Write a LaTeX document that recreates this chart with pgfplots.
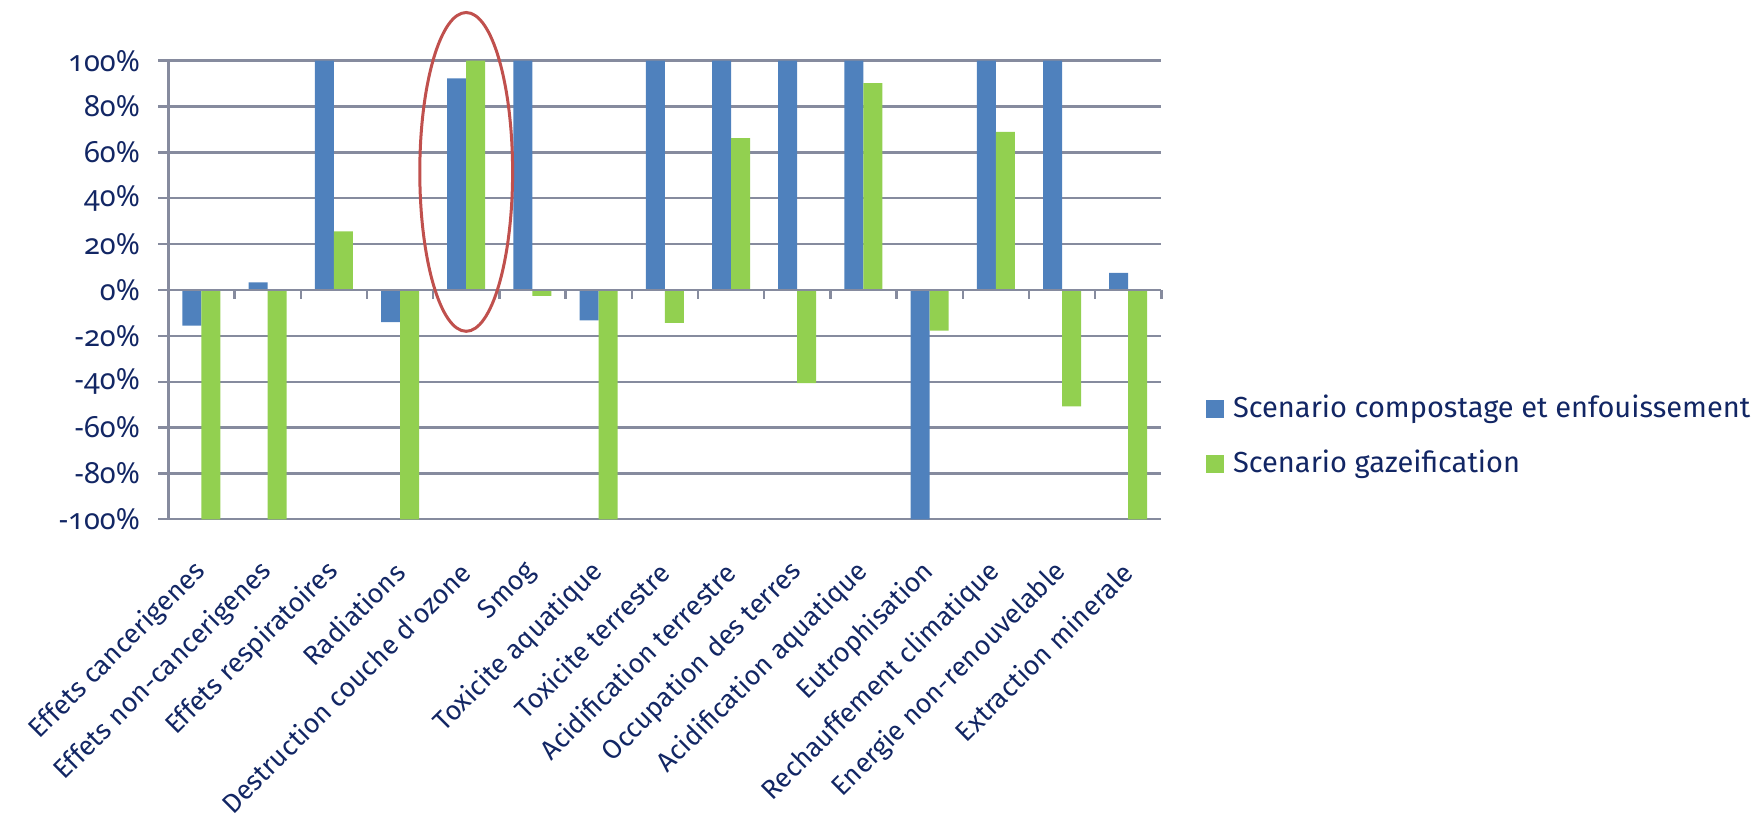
\documentclass[border=0pt]{standalone}
\usepackage{fontspec}
\setmainfont{Fira Sans}
\newfontfamily\percentfont{Noto Sans}[Numbers=OldStyle]
\usepackage{pgfplots}
\pgfplotsset{compat=1.18}
\usepackage{pgfplotstable}

\definecolor{barblue}{RGB}{79,129,189}
\definecolor{bargreen}{RGB}{146,208,80}
\definecolor{gridgray}{RGB}{134,139,158}
\definecolor{textnavy}{RGB}{18,38,100}
\definecolor{ringred}{RGB}{192,80,77}

% relative impact of each scenario per category (percent)
\pgfplotstableread{
idx compost gazeif
1   -15.5   -100
2     3.3   -100
3   100      25.6
4   -14.0   -100
5    92.3    100
6   100      -2.6
7   -13.2   -100
8   100     -14.3
9   100      66.2
10  100     -40.6
11  100      90.2
12 -100     -17.7
13  100      69.0
14  100     -50.8
15    7.5   -100
}\impacts

\begin{document}
\begin{tikzpicture}[font=\fontsize{14.5}{17}\selectfont, text=textnavy]
\useasboundingbox (0,0) rectangle (879pt,409.5pt);
\begin{axis}[
  at={(84.15pt,149.85pt)}, anchor=south west,
  scale only axis, width=496.5pt, height=229.3pt,
  xmin=0.5, xmax=15.5, ymin=-100, ymax=100,
  axis x line*=bottom, axis y line*=left,
  axis line style={draw=gridgray, line width=1.2pt},
  ybar=0pt, bar width=9.5pt,
  xtick={1,...,15},
  xticklabels={Effets cancerigenes, Effets non-cancerigenes, Effets respiratoires,
    Radiations, Destruction couche d\textquotesingle ozone, Smog, Toxicite aquatique,
    Toxicite terrestre, Acidification terrestre, Occupation des terres,
    Acidification aquatique, Eutrophisation, Rechauffement climatique,
    Energie non-renouvelable, Extraction minerale},
  xtick style={draw=none},
  xticklabel style={rotate=45, anchor=east, inner sep=0pt, font=\fontsize{13.5}{16}\selectfont},
  xticklabel shift=19pt,
  ytick={-100,-80,...,100},
  yticklabels={-100\%,-80\%,-60\%,-40\%,-20\%,0\%,20\%,40\%,60\%,80\%,100\%},
  ytick style={draw=gridgray, line width=1.2pt},
  tick align=outside, major tick length=5pt,
  yticklabel style={anchor=east, inner sep=0pt, font=\percentfont\fontsize{14.5}{17}\selectfont},
  yticklabel shift=9pt,
  ymajorgrids, grid style={draw=gridgray, line width=1.2pt},
  clip=false,
  legend cell align=left,
  legend style={at={(1.045,0.1805)}, anchor=west, draw=none, fill=none,
    inner sep=0pt, row sep=11.5pt, column sep=0pt,
    nodes={inner sep=0pt, text height=12pt, text depth=4pt, text=textnavy},
    /tikz/every odd column/.style={column sep=4.35pt}},
  legend image code/.code={\fill[#1] (0pt,-4.4pt) rectangle (9pt,4.6pt);},
]
\addplot[fill=barblue, draw=none] table[x=idx, y=compost] {\impacts};
\addlegendentry{Scenario compostage et enfouissement}
\addplot[fill=bargreen, draw=none] table[x=idx, y=gazeif] {\impacts};
\addlegendentry{Scenario gazeification}

% horizontal axis at zero, with ticks between the categories
\draw[gridgray, line width=1.2pt] (axis cs:0.5,0) -- (axis cs:15.5,0);
\pgfplotsinvokeforeach{0.5,1.5,...,15.5}{
  \draw[gridgray, line width=1.2pt] (axis cs:#1,0) -- ++(0pt,-4.5pt);
}

% highlight of the ozone category
\draw[ringred, line width=1.5pt] (axis cs:5,51.5) ellipse [x radius=23.2pt, y radius=79.7pt];
\end{axis}
\end{tikzpicture}
\end{document}
